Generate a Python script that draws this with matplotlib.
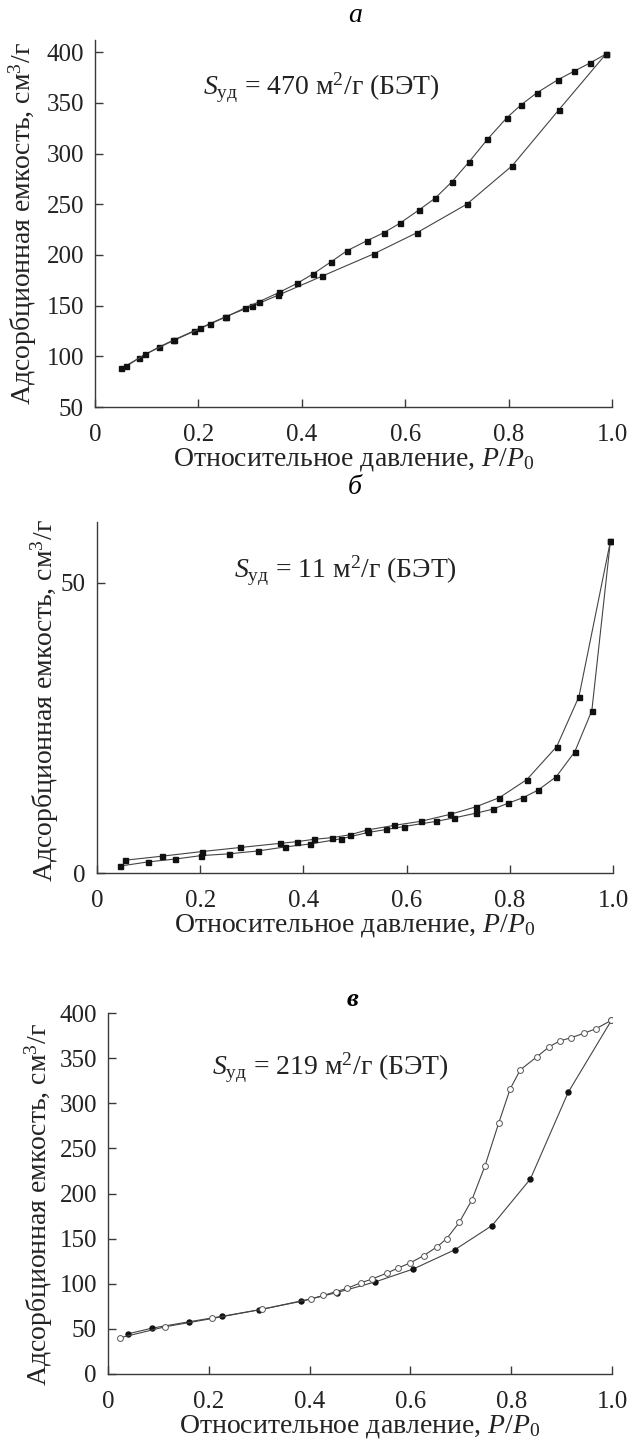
import matplotlib
matplotlib.use('Agg')
import matplotlib.pyplot as plt

plt.rcParams['font.family'] = ['Liberation Serif', 'DejaVu Serif']
plt.rcParams['mathtext.fontset'] = 'custom'
plt.rcParams['mathtext.rm'] = 'Liberation Serif'
plt.rcParams['mathtext.it'] = 'Liberation Serif:italic'
plt.rcParams['font.size'] = 18

#%% data
# panel a
a_ads_x = [0.051, 0.086, 0.123, 0.150, 0.191, 0.252, 0.304, 0.353, 0.439, 0.539, 0.623, 0.719, 0.807, 0.897, 0.988]
a_ads_y = [88, 98.5, 109, 115.6, 125, 139, 149.5, 160, 179, 201, 222, 250, 288, 343, 398]
a_des_x = [0.988, 0.958, 0.926, 0.896, 0.855, 0.824, 0.796, 0.759, 0.724, 0.690, 0.658, 0.627, 0.589,
           0.559, 0.526, 0.487, 0.456, 0.421, 0.391, 0.356, 0.318, 0.291, 0.254, 0.223, 0.204, 0.152,
           0.097, 0.060]
a_des_y = [398, 389.5, 381, 373, 360, 348, 335, 314, 292, 272, 256, 244.5, 231,
           222, 214, 204, 193, 181, 172, 163, 154, 148, 139, 132, 127.5, 115.6,
           102, 90]

# panel b
b_ads_x = [0.045, 0.098, 0.151, 0.202, 0.255, 0.312, 0.365, 0.413, 0.473, 0.526, 0.561, 0.594, 0.657,
           0.692, 0.734, 0.767, 0.796, 0.826, 0.855, 0.890, 0.926, 0.959, 0.995]
b_ads_y = [1.2, 1.9, 2.4, 3.0, 3.3, 3.8, 4.5, 5.0, 5.9, 7.0, 7.5, 8.0, 8.9,
           9.5, 10.3, 11.0, 12.0, 13.0, 14.3, 16.6, 20.9, 28.0, 57.2]
b_des_x = [0.995, 0.934, 0.891, 0.833, 0.780, 0.734, 0.684, 0.627, 0.575, 0.523, 0.491, 0.456, 0.420,
           0.387, 0.354, 0.278, 0.204, 0.126, 0.054]
b_des_y = [57.2, 30.4, 21.8, 16.1, 13.0, 11.4, 10.1, 8.9, 8.2, 7.4, 6.6, 6.1, 5.8,
           5.4, 5.1, 4.4, 3.7, 2.9, 2.2]

# panel c
c_ads_x = [0.039, 0.088, 0.161, 0.227, 0.299, 0.382, 0.454, 0.530, 0.606, 0.688, 0.762, 0.838, 0.913, 0.999]
c_ads_y = [44.4, 50.9, 57.9, 64, 71, 80.4, 90.2, 102, 116.4, 137.6, 164.5, 216, 312, 392]
c_des_x = [0.999, 0.968, 0.945, 0.919, 0.896, 0.875, 0.851, 0.818, 0.798, 0.775, 0.748, 0.722, 0.697,
           0.672, 0.653, 0.626, 0.599, 0.576, 0.554, 0.523, 0.501, 0.475, 0.452, 0.427, 0.403, 0.305,
           0.207, 0.114, 0.023]
c_des_y = [392, 382.5, 377.7, 372.6, 369, 362.4, 351.5, 337, 316, 277.7, 230.7, 192.9, 168,
           150, 141, 131, 123, 117.5, 112, 105, 101, 95, 91.3, 87, 83.3, 71.7,
           61.5, 52.4, 40]

x_ticks = [0, 0.2, 0.4, 0.6, 0.8, 1.0]
x_ticklabels = ['0', '0.2', '0.4', '0.6', '0.8', '1.0']

xlab = 'Относительное давление, $P/P_0$'
ylab = 'Адсорбционная емкость, см$^3$/г'

#%% figure
W, H = 632, 1445
fig = plt.figure(figsize=(W / 100, H / 100), dpi=100)


def make_ax(left, right, top, bottom):
    return fig.add_axes([left / W, 1 - bottom / H, (right - left) / W, (bottom - top) / H])


def style(ax):
    for s in ['top', 'right']:
        ax.spines[s].set_visible(False)
    for s in ['left', 'bottom']:
        ax.spines[s].set_linewidth(1.0)
        ax.spines[s].set_color('#3a3a3a')
    ax.tick_params(direction='in', length=6, width=1.0, colors='#3a3a3a', labelcolor='#222222',
                   labelsize=18)
    ax.tick_params(axis='y', pad=8)
    ax.tick_params(axis='x', pad=12)
    ax.set_xlim(0, 1.0)
    ax.set_xticks(x_ticks)
    ax.set_xticklabels(x_ticklabels)
    ax.set_xlabel(xlab, fontsize=20, labelpad=0, color='#222222')
    ax.set_ylabel(ylab, fontsize=20, color='#222222')


line_kw = dict(color='#444444', lw=0.8)
note_kw = dict(fontsize=20, va='center', color='#222222')

# a
ax1 = make_ax(95, 612, 40, 407)
ax1.plot(a_ads_x, a_ads_y, marker='s', ms=3.6, mfc='#111111', mec='#111111', **line_kw)
ax1.plot(a_des_x, a_des_y, marker='s', ms=3.6, mfc='#111111', mec='#111111', **line_kw)
style(ax1)
ax1.set_ylim(50, 412)
ax1.set_yticks(range(50, 401, 50))
ax1.yaxis.set_label_coords(-0.108, 0.5)
ax1.text(0.209, 365, '$S_{\\mathrm{уд}}$ = 470 м$^2$/г (БЭТ)', **note_kw)
fig.text(355 / W, 1 - 15 / H, 'а', style='italic', fontsize=20, ha='center', va='center')

# b
ax2 = make_ax(97, 613, 522, 873)
ax2.plot(b_ads_x, b_ads_y, marker='s', ms=3.6, mfc='#111111', mec='#111111', **line_kw)
ax2.plot(b_des_x, b_des_y, marker='s', ms=3.6, mfc='#111111', mec='#111111', **line_kw)
style(ax2)
ax2.set_ylim(0, 60.5)
ax2.set_yticks([0, 50])
ax2.yaxis.set_label_coords(-0.07, 0.49)
ax2.text(0.265, 52, '$S_{\\mathrm{уд}}$ = 11 м$^2$/г (БЭТ)', **note_kw)
fig.text(355 / W, 1 - 487 / H, 'б', style='italic', fontsize=20, ha='center', va='center')

# c
ax3 = make_ax(108, 612, 1013, 1374)
ax3.plot(c_ads_x, c_ads_y, marker='o', ms=3.6, mfc='#111111', mec='#111111', **line_kw)
ax3.plot(c_des_x, c_des_y, marker='o', ms=4.2, mfc='white', mec='#555555', mew=0.7, **line_kw)
style(ax3)
ax3.set_ylim(0, 400)
ax3.set_yticks(range(0, 401, 50))
ax3.yaxis.set_label_coords(-0.106, 0.47)
ax3.text(0.207, 339, '$S_{\\mathrm{уд}}$ = 219 м$^2$/г (БЭТ)', **note_kw)
fig.text(352 / W, 1 - 1000 / H, 'в', style='italic', fontweight='bold', fontsize=19,
         ha='center', va='center')

fig.savefig('out.png', dpi=100)
